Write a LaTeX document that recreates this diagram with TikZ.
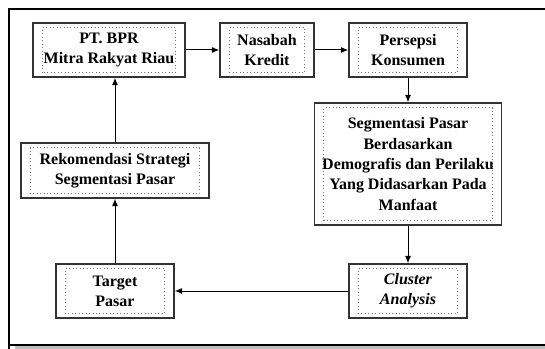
\documentclass[tikz,border=0pt]{standalone}
\usepackage{fontspec}
\setmainfont{Liberation Serif}
\newfontfamily\boxfont{Liberation Serif}
\usetikzlibrary{shapes,arrows.meta}

\begin{document}
\begin{tikzpicture}[x=0.75pt, y=-0.75pt, >={Latex[length=5.5pt,width=4.5pt]}, font=\boxfont\bfseries\fontsize{12}{15.2}\selectfont]
	% Define block styles
	\tikzstyle{block} = [rectangle, draw=black!80, line width=1.1pt, fill=white, align=center, minimum height=40.5pt, inner sep=0pt,
		path picture={\draw[black!55, dotted, line width=0.6pt] ([shift={(7pt,3.5pt)}]path picture bounding box.south west) rectangle ([shift={(-7pt,-3.5pt)}]path picture bounding box.north east);}]
	\tikzstyle{line} = [draw, ->, line width=0.75pt]

	\useasboundingbox (0,0) rectangle (545,349);

	% Frame
	\fill[black!25] (15,346) rectangle (545,349);
	\draw[line width=1pt] (9,349) -- (9,9) -- (545,9);
	\draw[line width=1pt] (9,345) -- (545,345);

	% Nodes
	\node [block, minimum width=114pt] (bpr) at (109,50) {PT. BPR\\Mitra Rakyat Riau};
	\node [block, minimum width=70.5pt] (nasabah) at (267,50) {Nasabah\\Kredit};
	\node [block, minimum width=88.5pt] (persepsi) at (408,50) {Persepsi\\Konsumen};
	\node [block, minimum width=140.25pt, minimum height=91.5pt] (segmentasi) at (408,164) {Segmentasi Pasar\\Berdasarkan\\Demografis dan Perilaku\\Yang Didasarkan Pada\\Manfaat};
	\node [block, minimum width=141pt, minimum height=41.25pt] (rekomendasi) at (115,170.5) {Rekomendasi Strategi\\Segmentasi Pasar};
	\node [block, minimum width=88.5pt] (target) at (115,291) {Target\\Pasar};
	\node [block, minimum width=88.5pt] (cluster) at (408,291) {\textit{Cluster}\\\textit{Analysis}};

	% Connecting lines
	\path [line] (bpr) -- (nasabah);
	\path [line] (nasabah) -- (persepsi);
	\path [line] (persepsi) -- (segmentasi);
	\path [line] (segmentasi) -- (cluster);
	\path [line] (cluster) -- (target);
	\path [line] (target) -- (rekomendasi);
	\path [line] (rekomendasi.north) -- (rekomendasi.north |- bpr.south);
\end{tikzpicture}
\end{document}
